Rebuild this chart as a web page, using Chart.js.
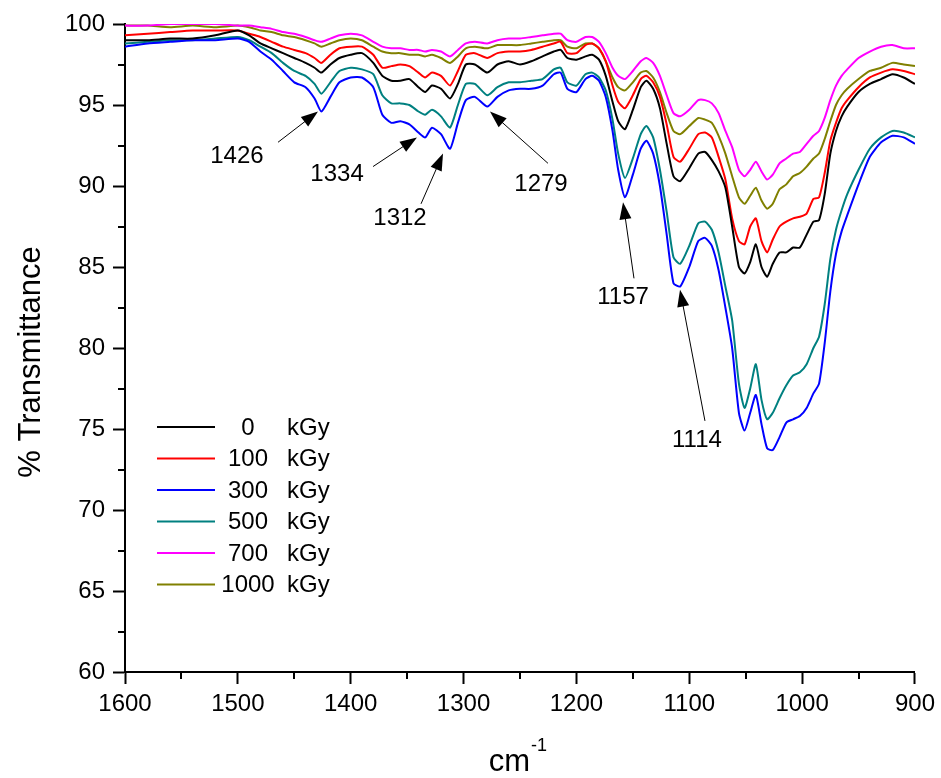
<!DOCTYPE html>
<html>
<head>
<meta charset="utf-8">
<title>FTIR spectra</title>
<script src="https://cdn.jsdelivr.net/npm/chart.js@4.4.0/dist/chart.umd.min.js"></script>
<style>
    html, body { margin: 0; padding: 0; background: #fff; }
    #wrap { width: 941px; height: 778px; }
</style>
</head>
<body>
<div id="wrap"><canvas id="ftirChart" width="941" height="778"></canvas></div>
<script>
// wavenumber grid (cm-1), shared by every spectrum
const wavenumbers = [
    1600, 1580, 1560, 1540, 1520, 1500, 1490, 1480, 1470, 1460,
    1450, 1440, 1432, 1426, 1418, 1410, 1400, 1390, 1380, 1372,
    1364, 1356, 1348, 1340, 1334, 1328, 1320, 1312, 1305, 1298,
    1290, 1279, 1270, 1260, 1250, 1240, 1230, 1220, 1214, 1208,
    1200, 1192, 1186, 1180, 1174, 1168, 1163, 1157, 1150, 1143,
    1138, 1132, 1126, 1120, 1114, 1108, 1100, 1092, 1086, 1080,
    1074, 1068, 1062, 1056, 1051, 1046, 1041, 1036, 1031, 1026,
    1020, 1014, 1008, 1002, 996, 990, 985, 980, 975, 970,
    965, 960, 950, 940, 930, 920, 910, 900
];

const doses = [0, 100, 300, 500, 700, 1000];

// % transmittance for each dose
const t0 = [
    99.0, 99.0, 99.1, 99.1, 99.3, 99.6, 99.3, 98.8, 98.5, 98.2,
    97.9, 97.6, 97.3, 97.0, 97.5, 97.9, 98.1, 98.2, 97.6, 96.8,
    96.5, 96.5, 96.6, 96.1, 95.8, 96.2, 96.0, 95.4, 96.3, 97.5,
    97.5, 97.0, 97.5, 97.7, 97.5, 97.7, 98.0, 98.3, 98.4, 97.9,
    97.8, 98.0, 98.1, 97.8, 96.8, 95.2, 94.0, 93.5, 94.7, 96.1,
    96.5, 96.0, 94.8, 92.6, 90.6, 90.3, 91.1, 92.0, 92.1, 91.6,
    90.9, 89.9, 87.5, 85.0, 84.6, 85.3, 86.4, 85.0, 84.4, 85.2,
    85.9, 85.9, 86.2, 86.2, 87.0, 87.8, 87.9, 89.5, 92.0, 93.4,
    94.3, 94.9, 95.8, 96.3, 96.6, 96.9, 96.7, 96.3
];
const t100 = [
    99.3, 99.4, 99.5, 99.6, 99.6, 99.6, 99.4, 99.2, 98.9, 98.6,
    98.4, 98.2, 97.9, 97.6, 98.1, 98.5, 98.6, 98.6, 98.1, 97.3,
    97.4, 97.5, 97.4, 97.0, 96.7, 97.0, 96.8, 96.2, 97.1, 98.1,
    98.2, 97.9, 98.2, 98.3, 98.3, 98.4, 98.6, 98.8, 98.9, 98.2,
    98.2, 98.7, 98.8, 98.5, 97.7, 96.2, 95.2, 94.8, 95.6, 96.6,
    96.8, 96.4, 95.5, 93.8, 91.8, 91.5, 92.3, 93.2, 93.3, 93.0,
    91.8, 90.4, 88.0, 86.6, 86.4, 87.5, 88.0, 86.6, 85.9, 86.7,
    87.5, 87.8, 88.0, 88.1, 88.3, 89.2, 89.3, 90.8, 92.8, 93.9,
    94.8, 95.3, 96.1, 96.7, 97.0, 97.2, 97.1, 96.9
];
const t300 = [
    98.6, 98.8, 98.9, 99.0, 99.0, 99.1, 98.9, 98.3, 97.8, 97.1,
    96.4, 96.1, 95.4, 94.6, 95.5, 96.4, 96.7, 96.7, 96.1, 94.4,
    93.9, 94.0, 93.8, 93.3, 93.0, 93.6, 93.2, 92.3, 93.9, 95.3,
    95.5, 94.9, 95.5, 95.9, 96.0, 96.0, 96.2, 96.9, 97.0, 96.0,
    95.8, 96.6, 96.8, 96.5, 95.5, 93.4, 91.0, 89.3, 90.7, 92.3,
    92.8, 92.0, 90.0, 87.0, 84.0, 83.8, 85.0, 86.6, 86.8, 86.3,
    84.8, 82.5, 80.0, 76.0, 74.9, 76.0, 77.1, 75.3, 73.8, 73.7,
    74.5, 75.4, 75.6, 75.8, 76.3, 77.2, 77.8, 80.3, 83.5, 85.8,
    87.2, 88.2, 90.1, 91.8, 92.7, 93.1, 93.0, 92.6
];
const t500 = [
    98.8, 98.9, 99.0, 99.0, 99.1, 99.2, 99.0, 98.6, 98.2, 97.6,
    97.1, 96.8, 96.3, 95.7, 96.4, 97.1, 97.3, 97.2, 96.9, 95.6,
    95.1, 95.1, 95.0, 94.6, 94.4, 94.7, 94.3, 93.6, 95.0, 96.3,
    96.3, 95.6, 96.1, 96.4, 96.4, 96.5, 96.6, 97.2, 97.3, 96.4,
    96.2, 96.9, 97.0, 96.7, 95.9, 94.1, 92.0, 90.5, 91.7, 93.2,
    93.7, 93.0, 91.0, 88.4, 85.6, 85.2, 86.3, 87.7, 87.8, 87.3,
    85.9, 83.8, 81.7, 77.8, 76.3, 77.5, 79.0, 76.8, 75.6, 76.0,
    76.9, 77.7, 78.3, 78.5, 79.0, 80.0, 80.7, 82.7, 85.5, 87.3,
    88.5, 89.5, 91.0, 92.3, 93.0, 93.4, 93.3, 93.0
];
const t700 = [
    99.9, 99.9, 100.0, 100.0, 100.0, 99.9, 99.9, 99.8, 99.7, 99.5,
    99.4, 99.2, 99.0, 98.9, 99.1, 99.3, 99.4, 99.3, 98.9, 98.6,
    98.5, 98.5, 98.4, 98.4, 98.3, 98.4, 98.3, 98.0, 98.4, 98.8,
    98.9, 98.8, 99.0, 99.1, 99.1, 99.2, 99.3, 99.4, 99.4, 99.0,
    98.9, 99.2, 99.2, 98.9, 98.2, 97.3, 96.8, 96.6, 97.1, 97.7,
    97.9, 97.6, 96.8, 95.6, 94.5, 94.3, 94.7, 95.3, 95.3, 95.1,
    94.5, 93.4, 92.4, 91.0, 90.6, 91.0, 91.5, 90.9, 90.4, 90.7,
    91.4, 91.7, 92.0, 92.1, 92.6, 93.1, 93.4, 94.2, 95.3, 96.2,
    96.8, 97.2, 97.9, 98.3, 98.6, 98.7, 98.5, 98.5
];
const t1000 = [
    99.9, 99.9, 99.8, 99.9, 99.8, 99.9, 99.8, 99.6, 99.5, 99.3,
    99.2, 99.0, 98.8, 98.6, 98.8, 99.0, 99.1, 99.0, 98.6, 98.3,
    98.2, 98.2, 98.1, 98.1, 98.0, 98.1, 97.9, 97.6, 98.0, 98.5,
    98.6, 98.5, 98.7, 98.7, 98.7, 98.8, 98.9, 99.0, 99.0, 98.6,
    98.5, 98.8, 98.8, 98.5, 97.7, 96.7, 96.1, 95.9, 96.4, 97.0,
    97.1, 96.7, 95.8, 94.5, 93.4, 93.2, 93.7, 94.2, 94.1, 93.9,
    93.1, 92.0, 90.6, 89.3, 88.9, 89.4, 89.9, 89.1, 88.6, 88.9,
    89.8, 90.1, 90.6, 90.8, 91.2, 91.7, 92.0, 92.9, 94.0, 95.0,
    95.6, 96.0, 96.6, 97.1, 97.3, 97.6, 97.5, 97.4
];

const spectra = [t0, t100, t300, t500, t700, t1000];
const colors = ["#000000", "#ff0000", "#0000ff", "#008080", "#ff00ff", "#808000"];

const xTicks = [1600, 1500, 1400, 1300, 1200, 1100, 1000, 900];
const yTicks = [60, 65, 70, 75, 80, 85, 90, 95, 100];

// band labels: text position and arrow tail/tip, all in data units
const bands = [
    { text: "1426", tx: 1500.8, ty: 91.8, fx: 1464.4, fy: 92.7, px: 1429.0, py: 94.6 },
    { text: "1334", tx: 1412.1, ty: 90.7, fx: 1380.2, fy: 91.2, px: 1341.3, py: 93.0 },
    { text: "1312", tx: 1356.3, ty: 88.0, fx: 1337.7, fy: 88.9, px: 1318.2, py: 92.0 },
    { text: "1279", tx: 1231.4, ty: 90.1, fx: 1225.2, fy: 91.4, px: 1276.6, py: 94.6 },
    { text: "1157", tx: 1158.7, ty: 83.1, fx: 1149.0, fy: 84.3, px: 1158.7, py: 89.0 },
    { text: "1114", tx: 1093.2, ty: 74.3, fx: 1086.1, fy: 75.5, px: 1108.2, py: 83.6 }
];

const FONT = '"Liberation Sans", Arial, sans-serif';

document.addEventListener("DOMContentLoaded", () => {
    drawSpectra();
});

function drawArrow(ctx, x0, y0, x1, y1) {
    const ang = Math.atan2(y1 - y0, x1 - x0);
    const len = 17, half = 6;
    ctx.beginPath();
    ctx.moveTo(x0, y0);
    ctx.lineTo(x1 - Math.cos(ang) * len * 0.8, y1 - Math.sin(ang) * len * 0.8);
    ctx.stroke();
    ctx.beginPath();
    ctx.moveTo(x1, y1);
    ctx.lineTo(x1 - Math.cos(ang) * len - Math.sin(ang) * half, y1 - Math.sin(ang) * len + Math.cos(ang) * half);
    ctx.lineTo(x1 - Math.cos(ang) * len + Math.sin(ang) * half, y1 - Math.sin(ang) * len - Math.cos(ang) * half);
    ctx.closePath();
    ctx.fill();
}

const decorPlugin = {
    id: "decor",
    afterDraw(chart) {
        const { ctx, chartArea } = chart;
        const x = chart.scales.x, y = chart.scales.y;
        ctx.save();
        ctx.strokeStyle = "#000";
        ctx.fillStyle = "#000";

        // minor ticks
        ctx.lineWidth = 2;
        ctx.beginPath();
        for (let v = 62.5; v < 100; v += 5) {
            const py = Math.round(y.getPixelForValue(v));
            ctx.moveTo(chartArea.left - 7, py);
            ctx.lineTo(chartArea.left, py);
        }
        for (let w = 950; w < 1600; w += 100) {
            const px = Math.round(x.getPixelForValue(w));
            ctx.moveTo(px, chartArea.bottom);
            ctx.lineTo(px, chartArea.bottom + 7);
        }
        ctx.stroke();

        // band assignments with arrows
        ctx.lineWidth = 1;
        ctx.font = "24px " + FONT;
        ctx.textAlign = "center";
        ctx.textBaseline = "middle";
        bands.forEach(b => {
            drawArrow(ctx, x.getPixelForValue(b.fx), y.getPixelForValue(b.fy),
                x.getPixelForValue(b.px), y.getPixelForValue(b.py));
            ctx.fillText(b.text, x.getPixelForValue(b.tx), y.getPixelForValue(b.ty));
        });

        // legend
        ctx.lineWidth = 2;
        doses.forEach((d, i) => {
            const rowY = 427 + i * 31.5;
            ctx.strokeStyle = colors[i];
            ctx.beginPath();
            ctx.moveTo(157, rowY);
            ctx.lineTo(215, rowY);
            ctx.stroke();
            ctx.textAlign = "center";
            ctx.fillText(String(d), 248, rowY + 1);
            ctx.textAlign = "left";
            ctx.fillText("kGy", 287, rowY + 1);
        });

        // axis titles
        ctx.font = "31px " + FONT;
        ctx.textAlign = "center";
        ctx.save();
        ctx.translate(31, (chartArea.top + chartArea.bottom) / 2 + 14);
        ctx.rotate(-Math.PI / 2);
        ctx.fillText("% Transmittance", 0, 0);
        ctx.restore();

        const cx = (chartArea.left + chartArea.right) / 2;
        ctx.textAlign = "right";
        ctx.textBaseline = "alphabetic";
        ctx.fillText("cm", cx + 10, 771);
        ctx.font = "18px " + FONT;
        ctx.textAlign = "left";
        ctx.fillText("-1", cx + 11, 751);
        ctx.restore();
    }
};

function drawSpectra() {
    const ctx = document.getElementById("ftirChart").getContext("2d");
    const datasets = spectra.map((vals, i) => ({
        label: doses[i] + " kGy",
        data: wavenumbers.map((w, k) => ({ x: w, y: vals[k] })),
        borderColor: colors[i],
        backgroundColor: colors[i],
        borderWidth: 2,
        pointRadius: 0,
        tension: 0.2,
        fill: false
    }));

    new Chart(ctx, {
        type: "line",
        data: { datasets },
        options: {
            responsive: false,
            animation: false,
            layout: { padding: { top: 24, right: 26, left: 0, bottom: 0 } },
            plugins: { legend: { display: false }, tooltip: { enabled: false } },
            scales: {
                x: {
                    type: "linear",
                    reverse: true,
                    min: 900,
                    max: 1600,
                    afterBuildTicks: s => { s.ticks = xTicks.map(v => ({ value: v })); },
                    afterFit: s => { s.height = 106; },
                    ticks: {
                        color: "#000",
                        font: { family: FONT, size: 24 },
                        padding: 6,
                        maxRotation: 0,
                        autoSkip: false,
                        callback: v => String(v)
                    },
                    grid: { drawOnChartArea: false, drawTicks: true, tickLength: 12, tickColor: "#000", tickWidth: 2 },
                    border: { color: "#000", width: 2 }
                },
                y: {
                    min: 60,
                    max: 100,
                    afterBuildTicks: s => { s.ticks = yTicks.map(v => ({ value: v })); },
                    afterFit: s => { s.width = 125; },
                    ticks: { color: "#000", font: { family: FONT, size: 24 }, padding: 8, callback: v => String(v) },
                    grid: { drawOnChartArea: false, drawTicks: true, tickLength: 12, tickColor: "#000", tickWidth: 2 },
                    border: { color: "#000", width: 2 }
                }
            }
        },
        plugins: [decorPlugin]
    });
}
</script>
</body>
</html>
